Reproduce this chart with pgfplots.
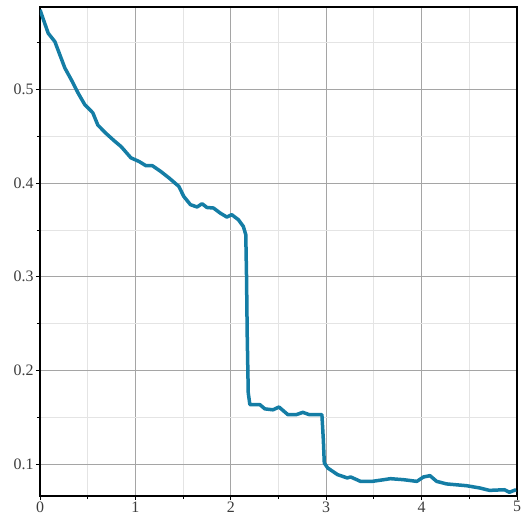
\documentclass[border=0pt]{standalone}
\usepackage{fontspec}
\setmainfont{Liberation Serif}
\usepackage{pgfplots}
\pgfplotsset{compat=1.18}
\definecolor{curve}{RGB}{20,125,165}
\definecolor{majgrid}{RGB}{165,165,165}
\definecolor{mingrid}{RGB}{228,228,228}
\definecolor{lab}{RGB}{60,60,60}
\begin{document}
\begin{tikzpicture}
\begin{axis}[
  scale only axis,
  width=477bp, height=489bp,
  xmin=0, xmax=5, ymin=0.066, ymax=0.588,
  xtick={0,1,2,3,4,5},
  ytick={0.1,0.2,0.3,0.4,0.5},
  minor xtick={0.5,1.5,2.5,3.5,4.5},
  minor ytick={0.15,0.25,0.35,0.45,0.55},
  xticklabels={0,1,2,3,4,5},
  yticklabels={0.1,0.2,0.3,0.4,0.5},
  grid=both,
  major grid style={majgrid, line width=0.9bp},
  minor grid style={mingrid, line width=0.9bp},
  axis line style={black, line width=1.2bp},
  tick style={black, line width=0.9bp},
  major tick length=4bp, minor tick length=3bp,
  tick align=outside,
  xtick pos=bottom, ytick pos=left,
  tick label style={font=\fontsize{16}{18}\selectfont, text=lab},
  xticklabel style={yshift=2bp},
  yticklabel style={xshift=1bp},
]
\addplot[curve, line width=3.5bp, line join=round] coordinates {
(0,0.585) (0.086,0.560) (0.156,0.551) (0.208,0.537) (0.26,0.523) (0.33,0.510)
(0.40,0.496) (0.468,0.484) (0.554,0.475) (0.606,0.462) (0.693,0.453) (0.78,0.445)
(0.85,0.439) (0.953,0.427) (1.04,0.423) (1.11,0.4186) (1.178,0.4186) (1.265,0.4125)
(1.354,0.4054) (1.455,0.3965) (1.507,0.3858) (1.577,0.377) (1.646,0.3745) (1.698,0.378)
(1.750,0.374) (1.819,0.3734) (1.889,0.368) (1.958,0.3638) (2.01,0.3663) (2.079,0.361)
(2.131,0.3538) (2.157,0.345) (2.165,0.300) (2.172,0.2382) (2.183,0.176) (2.20,0.1635)
(2.305,0.1635) (2.357,0.159) (2.443,0.158) (2.505,0.161) (2.599,0.1528) (2.685,0.1528)
(2.755,0.1553) (2.824,0.1528) (2.955,0.1528) (2.97,0.126) (2.98,0.1013) (3.015,0.096)
(3.119,0.0888) (3.22,0.0853) (3.257,0.0863) (3.36,0.0816) (3.48,0.0816) (3.604,0.0834)
(3.673,0.0845) (3.812,0.0834) (3.95,0.0816) (4.02,0.0863) (4.088,0.0877) (4.158,0.0816)
(4.262,0.0789) (4.47,0.077) (4.608,0.0746) (4.712,0.072) (4.868,0.0727) (4.92,0.070)
(4.99,0.0727)
};
\end{axis}
\pgfresetboundingbox
\path (-40bp,-24bp) rectangle (482bp,496bp);
\end{tikzpicture}
\end{document}
